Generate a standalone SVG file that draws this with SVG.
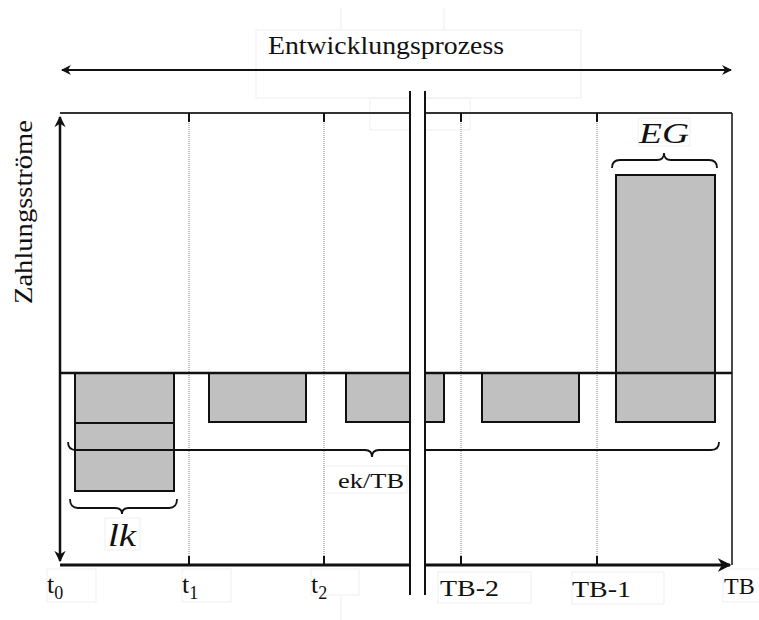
<svg xmlns="http://www.w3.org/2000/svg" width="759" height="620" viewBox="0 0 759 620">
<style>
  .lbl { font-family: "Liberation Serif", "DejaVu Serif", serif; fill: #111; }
  .it { font-style: italic; }
  .bar { fill: #c0c0c0; stroke: #111; stroke-width: 2; }
  .axis { stroke: #111; fill: none; }
  .dot { stroke: #666; stroke-width: 0.8; stroke-dasharray: 1 1; fill: none; }
  .tick { stroke: #111; stroke-width: 2; }
  .brace { stroke: #111; stroke-width: 1.8; fill: none; }
  .ghost { fill: none; stroke: #efefef; stroke-width: 1; }
</style>
<defs>
  <marker id="ah" viewBox="0 0 10 10" refX="9" refY="5" markerWidth="4.5" markerHeight="4.5" orient="auto-start-reverse" markerUnits="strokeWidth">
    <path d="M0,0 L10,5 L0,10 L3,5 Z" fill="#111"/>
  </marker>
</defs>
<rect width="759" height="620" fill="#fff"/>

<g id="label-boxes">
  <rect class="ghost" x="256" y="30" width="325" height="68"/>
  <line class="ghost" x1="341" y1="8" x2="341" y2="30"/>
  <line class="ghost" x1="444" y1="8" x2="444" y2="30"/>
  <rect class="ghost" x="370" y="98" width="100" height="32"/>
  <rect class="ghost" x="105" y="518" width="35" height="32"/>
  <rect class="ghost" x="638" y="118" width="52" height="28"/>
  <rect class="ghost" x="324" y="466" width="83" height="27"/>
  <rect class="ghost" x="47" y="569" width="49" height="33"/>
  <rect class="ghost" x="182" y="569" width="49" height="33"/>
  <rect class="ghost" x="311" y="569" width="48" height="26"/>
  <line class="ghost" x1="341" y1="596" x2="341" y2="620"/>
  <rect class="ghost" x="438" y="572" width="93" height="31"/>
  <rect class="ghost" x="572" y="572" width="92" height="32"/>
  <rect class="ghost" x="723" y="569" width="40" height="33"/>
</g>

<g id="process-arrow">
  <line class="axis" x1="62" y1="70" x2="731" y2="70" stroke-width="2.2" marker-start="url(#ah)" marker-end="url(#ah)"/>
  <text class="lbl" x="386" y="54" font-size="26" text-anchor="middle" textLength="236" lengthAdjust="spacingAndGlyphs">Entwicklungsprozess</text>
</g>

<g id="frame">
  <line x1="60" y1="113" x2="732" y2="113" stroke="#333" stroke-width="2"/>
  <line x1="732" y1="113" x2="732" y2="565" stroke="#111" stroke-width="1.5"/>
</g>

<g id="gridlines">
  <line class="dot" x1="189" y1="113" x2="189" y2="565"/>
  <line class="dot" x1="324" y1="113" x2="324" y2="565"/>
  <line class="dot" x1="461" y1="113" x2="461" y2="565"/>
  <line class="dot" x1="597" y1="113" x2="597" y2="565"/>
  <line class="tick" x1="189" y1="113" x2="189" y2="122"/>
  <line class="tick" x1="324" y1="113" x2="324" y2="122"/>
  <line class="tick" x1="461" y1="113" x2="461" y2="122"/>
  <line class="tick" x1="597" y1="113" x2="597" y2="122"/>
  <line class="tick" x1="189" y1="556" x2="189" y2="565"/>
  <line class="tick" x1="324" y1="556" x2="324" y2="565"/>
  <line class="tick" x1="461" y1="556" x2="461" y2="565"/>
  <line class="tick" x1="597" y1="556" x2="597" y2="565"/>
</g>

<g id="bar-lk">
  <rect class="bar" x="75" y="373" width="99" height="50"/>
  <rect class="bar" x="75" y="423" width="99" height="68"/>
</g>
<g id="bar-t1"><rect class="bar" x="209" y="373" width="97" height="49"/></g>
<g id="bar-t2"><rect class="bar" x="346" y="373" width="98" height="49"/></g>
<g id="bar-tb2"><rect class="bar" x="482" y="373" width="97" height="49"/></g>
<g id="bar-eg"><rect class="bar" x="616" y="175" width="99" height="247"/></g>

<g id="connectors">
  <line class="axis" x1="60" y1="373" x2="732" y2="373" stroke-width="2.5"/>
  <line class="axis" x1="60" y1="565" x2="730" y2="565" stroke-width="3" marker-end="url(#ah)"/>
  <line class="axis" x1="60" y1="117" x2="60" y2="561" stroke-width="2.5" marker-start="url(#ah)" marker-end="url(#ah)"/>
</g>

<g id="brace-ektb">
  <path class="brace" d="M68,442 Q68,450 76,450 L365,450 Q372,450 372,457 Q372,450 379,450 L711,450 Q719,450 719,442"/>
  <text class="lbl" x="371" y="488" font-size="20" text-anchor="middle" textLength="66" lengthAdjust="spacingAndGlyphs">ek/TB</text>
</g>
<g id="brace-lk">
  <path class="brace" d="M70,499 Q70,508 78,508 L115,508 Q122,508 122,514 Q122,508 129,508 L169,508 Q177,508 177,499"/>
  <text class="lbl it" x="122" y="546" font-size="32" text-anchor="middle" textLength="28" lengthAdjust="spacingAndGlyphs">lk</text>
</g>
<g id="brace-eg">
  <path class="brace" d="M612,168 Q612,160 620,160 L657,160 Q664,160 664,153 Q664,160 671,160 L709,160 Q717,160 717,168"/>
  <text class="lbl it" x="664" y="143" font-size="30" text-anchor="middle" textLength="50" lengthAdjust="spacingAndGlyphs">EG</text>
</g>

<g id="break">
  <rect x="411" y="86" width="13" height="512" fill="#fff"/>
  <line x1="410" y1="91" x2="410" y2="595" stroke="#111" stroke-width="2"/>
  <line x1="425" y1="91" x2="425" y2="595" stroke="#111" stroke-width="2"/>
</g>

<g id="y-label">
  <text class="lbl" transform="translate(32,212) rotate(-90)" font-size="25" text-anchor="middle" textLength="184" lengthAdjust="spacingAndGlyphs">Zahlungsströme</text>
</g>

<g id="x-labels">
  <text class="lbl" x="47" y="593" font-size="26">t<tspan font-size="18" dy="6">0</tspan></text>
  <text class="lbl" x="182" y="593" font-size="26">t<tspan font-size="18" dy="6">1</tspan></text>
  <text class="lbl" x="311" y="593" font-size="26">t<tspan font-size="18" dy="6">2</tspan></text>
  <text class="lbl" x="440" y="596" font-size="24" textLength="59" lengthAdjust="spacingAndGlyphs">TB-2</text>
  <text class="lbl" x="572" y="597" font-size="24" textLength="59" lengthAdjust="spacingAndGlyphs">TB-1</text>
  <text class="lbl" x="724" y="594" font-size="24">TB</text>
</g>
</svg>
